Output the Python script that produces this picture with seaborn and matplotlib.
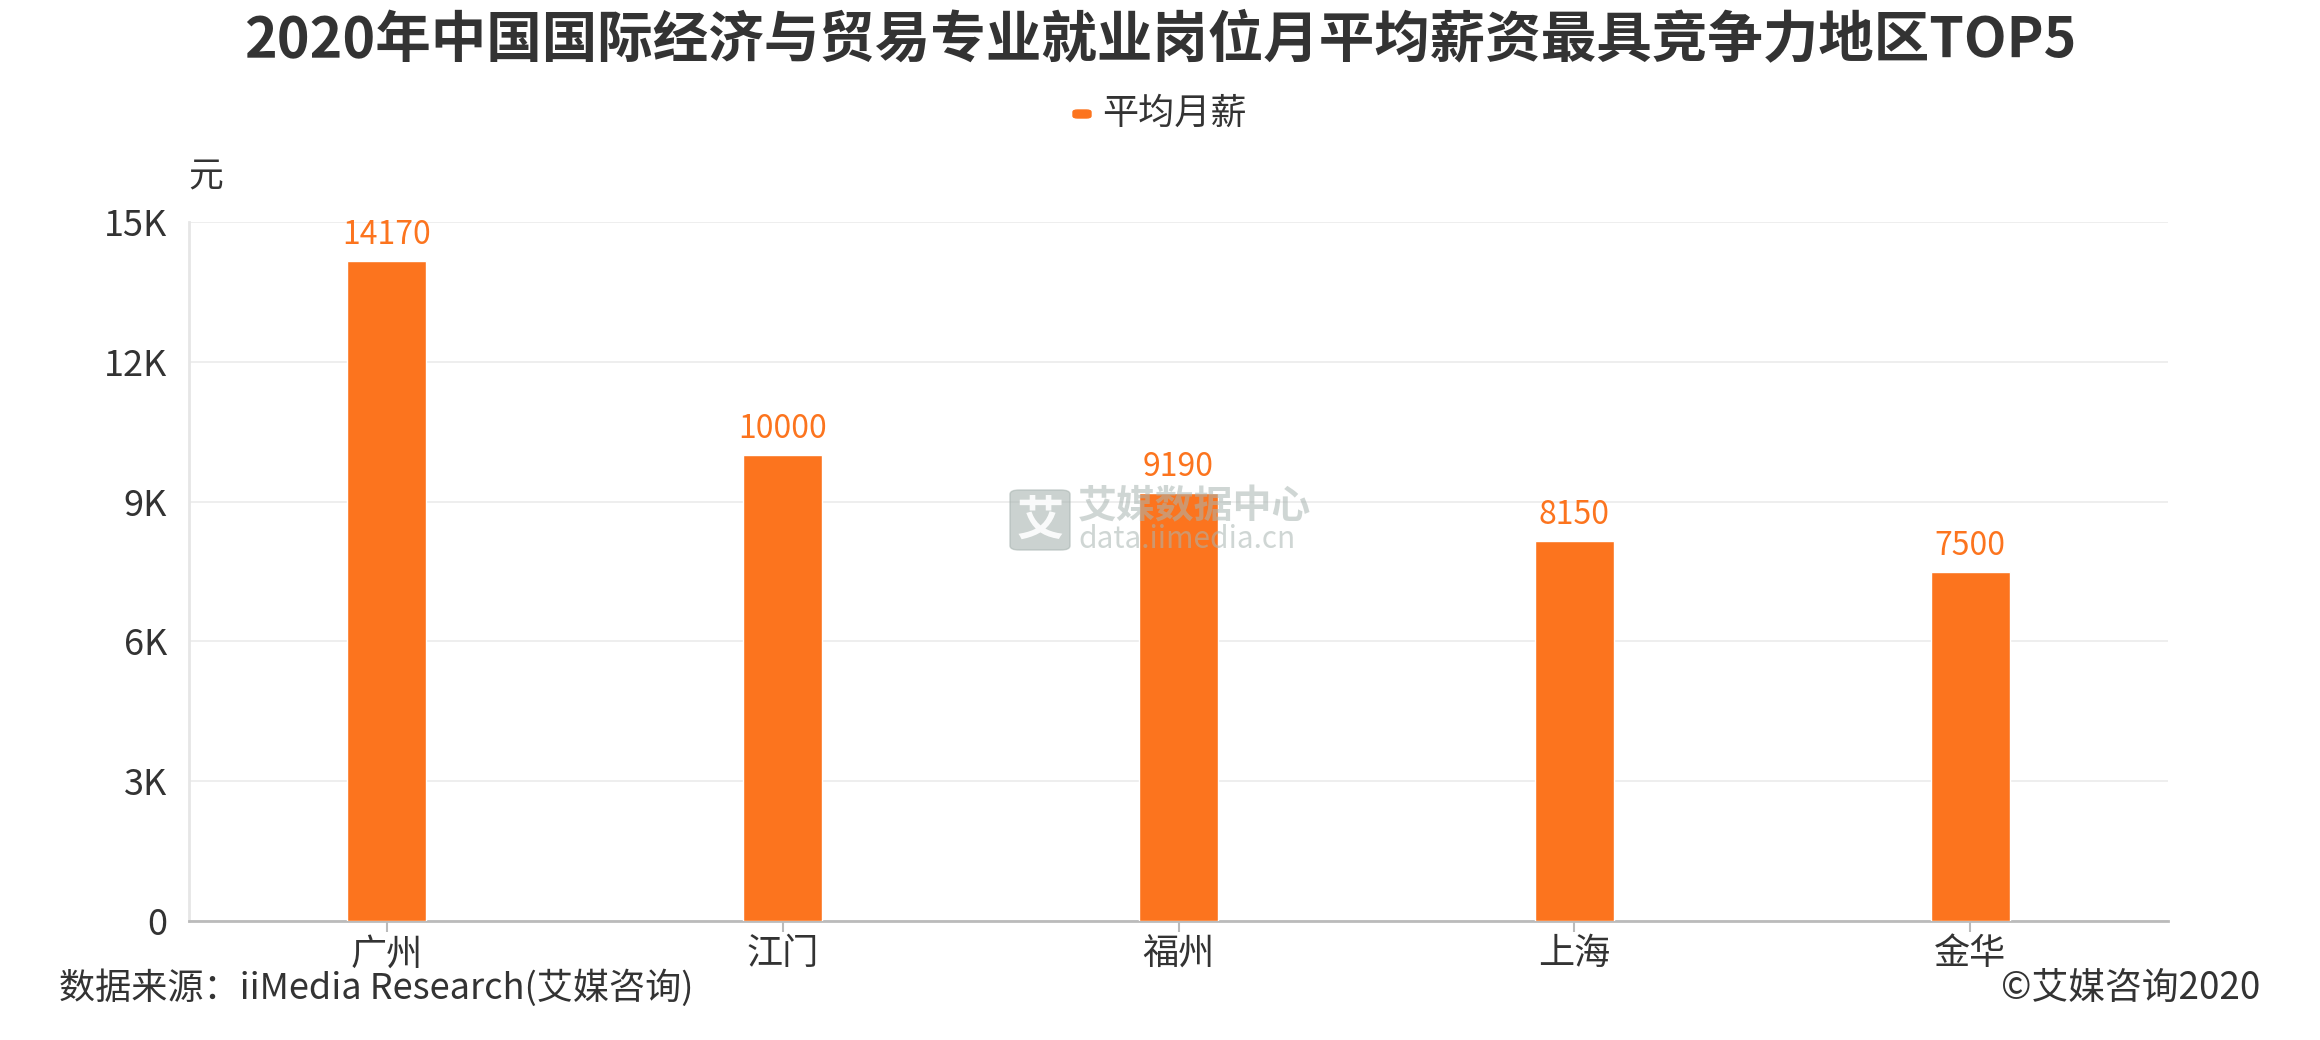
import matplotlib
matplotlib.use("Agg")
import matplotlib.pyplot as plt
import seaborn as sns
import pandas as pd
from matplotlib.patches import FancyBboxPatch

# data
regions = ["广州", "江门", "福州", "上海", "金华"]
salary = [14170, 10000, 9190, 8150, 7500]
y_ticks = [0, 3000, 6000, 9000, 12000, 15000]
y_tick_labels = ["0", "3K", "6K", "9K", "12K", "15K"]

TITLE = "2020年中国国际经济与贸易专业就业岗位月平均薪资最具竞争力地区TOP5"
SERIES = "平均月薪"
SOURCE = "数据来源：iiMedia Research(艾媒咨询)"
COPYRIGHT = "©艾媒咨询2020"

ORANGE = "#FC741E"
TEXT = "#333333"

sns.set_theme(style="white")
plt.rcParams['font.family'] = ['Noto Sans CJK SC', 'DejaVu Sans']

df = pd.DataFrame({"region": regions, "salary": salary})

fig = plt.figure(figsize=(23.2, 10.4), dpi=100)
ax = fig.add_axes([189 / 2320, 1 - 921 / 1040, (2168 - 189) / 2320, (921 - 222) / 1040])

sns.barplot(data=df, x="region", y="salary", color=ORANGE, width=0.2,
            saturation=1, ax=ax, zorder=3)

ax.set_ylim(0, 15000)
ax.set_xlim(-0.5, len(regions) - 0.5)
ax.set_yticks(y_ticks)
ax.set_yticklabels(y_tick_labels)
ax.set_xlabel("")
ax.set_ylabel("")
ax.yaxis.grid(True, color="#EBEBEB", linewidth=1.2, zorder=0)
ax.xaxis.grid(False)

for side in ["top", "right"]:
    ax.spines[side].set_visible(False)
ax.spines["left"].set_color("#E6E6E6")
ax.spines["left"].set_linewidth(2)
ax.spines["bottom"].set_color("#BBBBBB")
ax.spines["bottom"].set_linewidth(2)

ax.tick_params(axis="y", length=0, pad=16, labelsize=26, labelcolor=TEXT)
ax.tick_params(axis="x", bottom=True, length=8, width=1.5, color="#BBBBBB",
               pad=3, labelsize=26, labelcolor=TEXT)

for c in ax.containers:
    ax.bar_label(c, labels=[str(v) for v in salary], padding=7,
                 fontsize=23, color=ORANGE)

# unit label
fig.text(206 / 2320, 1 - 177 / 1040, "元", fontsize=25, color=TEXT,
         ha="center", va="center")

# title
fig.text(0.5, 1 - 40 / 1040, TITLE, fontsize=40, fontweight="bold",
         color=TEXT, ha="center", va="center")

# legend
fig.patches.append(FancyBboxPatch((1073 / 2320, 1 - 118 / 1040), 18 / 2320, 8 / 1040,
                                  boxstyle="round,pad=0,rounding_size=0.002",
                                  transform=fig.transFigure, color=ORANGE))
fig.text(1102 / 2320, 1 - 114 / 1040, SERIES, fontsize=26, color=TEXT,
         ha="left", va="center")

# footer
fig.text(59 / 2320, 1 - 988 / 1040, SOURCE, fontsize=26, color=TEXT,
         ha="left", va="center")
fig.text(2260 / 2320, 1 - 988 / 1040, COPYRIGHT, fontsize=26.5, color=TEXT,
         ha="right", va="center")

# watermark
fig.patches.append(FancyBboxPatch((1010 / 2320, 1 - 550 / 1040), 60 / 2320, 60 / 1040,
                                  boxstyle="round,pad=0,rounding_size=0.004",
                                  transform=fig.transFigure, color="#A9B5B1",
                                  alpha=0.6, zorder=10))
fig.text(1040 / 2320, 1 - 521 / 1040, "艾", fontsize=34, fontweight="bold",
         color="white", ha="center", va="center", alpha=0.9, zorder=11)
fig.text(1078 / 2320, 1 - 507 / 1040, "艾媒数据中心", fontsize=28, fontweight="bold",
         color="#A9B5B1", ha="left", va="center", alpha=0.55, zorder=11)
fig.text(1078 / 2320, 1 - 540 / 1040, "data.iimedia.cn", fontsize=21.5,
         color="#A9B5B1", ha="left", va="center", alpha=0.55, zorder=11)

fig.savefig("out.png", dpi=100, facecolor="white")
